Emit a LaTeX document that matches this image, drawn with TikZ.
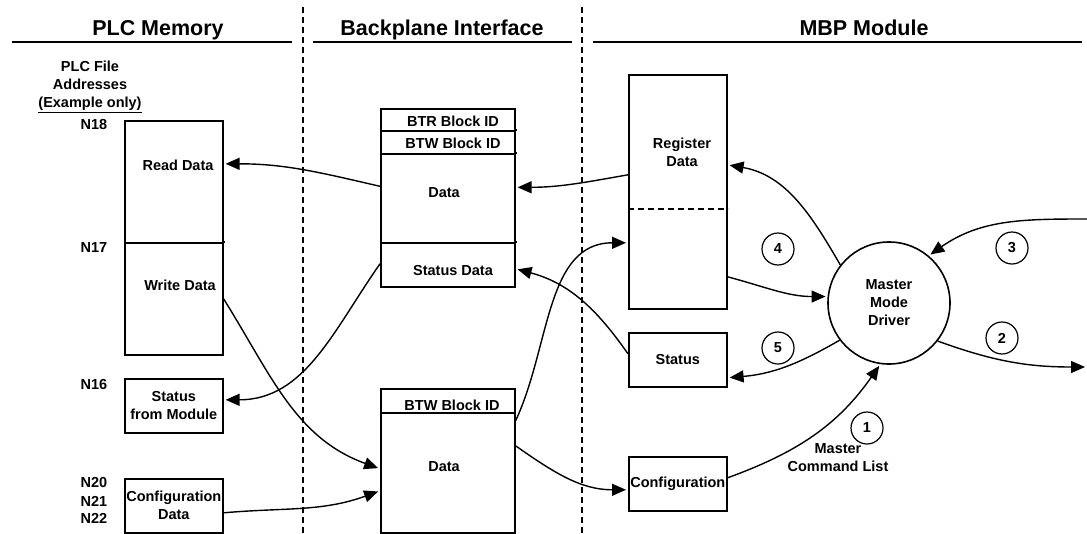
\documentclass[tikz,border=0pt]{standalone}
\usepackage{fontspec}
\setmainfont{Liberation Sans}
\usepackage{tikz}
\usetikzlibrary{arrows.meta, positioning}

\begin{document}
\begin{tikzpicture}[x=1pt, y=-1pt,
    box/.style={draw, line width=1.6pt, inner sep=0pt, anchor=north west,
      font=\fontsize{14.5}{18}\selectfont\bfseries, align=center},
    txt/.style={font=\fontsize{14.5}{18}\selectfont\bfseries, align=center, inner sep=0pt},
    head/.style={font=\fontsize{21.5}{24}\selectfont\bfseries, inner sep=0pt},
    num/.style={draw, circle, line width=1.2pt, minimum size=32pt, inner sep=0pt,
      font=\fontsize{14.5}{18}\selectfont\bfseries},
    flow/.style={line width=1.4pt, -{Triangle[length=14pt,width=12pt]}, shorten >=2pt},
    sep/.style={line width=1.2pt, dash pattern=on 6pt off 4pt}]
  \useasboundingbox (0,0) rectangle (1087,533);

  % column headings
  \node[head] (hplc) at (158,30) {PLC Memory};
  \node[head] (hbp) at (442,30) {Backplane Interface};
  \node[head] (hmbp) at (864,28) {MBP Module};
  \draw[line width=1.6pt] (12,42) -- (292,42);
  \draw[line width=1.6pt] (313,42) -- (572,42);
  \draw[line width=1.6pt] (593,42) -- (1082,42);
  \foreach \x in {303,582}
    \draw[sep] (\x,7) -- (\x,533);

  % PLC memory
  \node[txt] (addr) at (90,87) {PLC File\\Addresses\\\underline{(Example only)}};
  \foreach \t/\y in {N18/125, N17/248, N16/385, N20/483, N21/501, N22/518}
    \node[txt] (\t) at (94,\y) {\t};
  \node[box, minimum width=98pt, minimum height=122pt] (rdbox) at (124,120) {};
  \node[box, minimum width=98pt, minimum height=112pt] (wrbox) at (124,242) {};
  \draw[line width=1.6pt] (222,242) -- (225,242);
  \node[txt] (rdtxt) at (178,165) {Read Data};
  \node[txt] (wrtxt) at (180,285) {Write Data};
  \node[box, minimum width=98pt, minimum height=54pt] (stmod) at (124,378) {Status\\from Module};
  \node[box, minimum width=98pt, minimum height=54pt] (cfgdat) at (124,478) {Configuration\\Data};

  % backplane
  \node[box, minimum width=134pt, minimum height=22pt] (btr) at (380,108) {};
  \node[box, minimum width=134pt, minimum height=23pt] (btw) at (380,130) {};
  \node[box, minimum width=134pt, minimum height=89pt] (bdata) at (380,153) {};
  \node[box, minimum width=134pt, minimum height=44pt] (bstat) at (380,242) {};
  \foreach \y in {130,153,242}
    \draw[line width=1.6pt] (514,\y) -- (517,\y);
  \node[txt] (btrtxt) at (453,121) {BTR Block ID};
  \node[txt] (btwtxt) at (453,143) {BTW Block ID};
  \node[txt] (bdtxt) at (444,193) {Data};
  \node[txt] (bsttxt) at (453,271) {Status Data};
  \node[box, minimum width=134pt, minimum height=24pt] (bbtw) at (380,388) {};
  \node[box, minimum width=134pt, minimum height=120pt] (bwd) at (380,412) {};
  \node[txt] (bbtwtxt) at (452,405) {BTW Block ID};
  \node[txt] (bwdtxt) at (444,467) {Data};

  % MBP module
  \node[box, minimum width=98pt, minimum height=234pt] (reg) at (628,74) {};
  \draw[line width=1.4pt, dash pattern=on 6pt off 4pt] (628,209) -- (728,209);
  \node[txt] (regtxt) at (682,152) {Register\\Data};
  \node[box, minimum width=98pt, minimum height=54pt] (stat) at (628,332) {Status};
  \node[box, minimum width=98pt, minimum height=54pt] (conf) at (628,456) {Configuration};
  \node[draw, circle, line width=1.6pt, minimum size=122pt, txt] (drv) at (889,303) {Master\\Mode\\Driver};
  \node[txt] (mcl) at (838,458) {Master\\Command List};
  \foreach \n/\x/\y in {1/867/428, 2/1002/338, 3/1012/248, 4/778/249, 5/778/348}
    \node[num] (n\n) at (\x,\y) {\n};
  \coordinate (in3) at (1087,219);
  \coordinate (out2) at (1087,367);

  % data flow
  \draw[flow] ([yshift=12pt]bdata.west) to[out=167,in=0] ([yshift=18pt]rdbox.east);
  \draw[flow] ([yshift=17pt]reg.west) to[out=190,in=0] ([yshift=11pt]bdata.east);
  \draw[flow] (wrbox.east) to[out=-58,in=160] ([yshift=4pt]bwd.west);
  \draw[flow] ([yshift=-7pt]cfgdat.east) to[out=5,in=200] ([yshift=-18pt]bwd.west);
  \draw[flow] ([yshift=1pt]bstat.west) to[out=235,in=0] ([yshift=6pt]stmod.east);
  \draw[flow] ([yshift=52pt]bwd.east) to[out=65,in=180] ([yshift=-51pt]reg.west);
  \draw[flow] ([yshift=6pt]stat.west) to[out=125,in=-15] ([yshift=-4pt]bstat.east);
  \draw[flow] ([yshift=27pt]bwd.east) to[out=-35,in=180] ([yshift=-6pt]conf.west);
  \draw[flow] ([yshift=6pt]conf.east) to[out=20,in=235] (drv.-98);
  \draw[flow] (drv.142) to[out=120,in=-10] ([yshift=27pt]reg.east);
  \draw[flow] ([yshift=-85pt]reg.east) to[out=-15,in=180] (drv.174);
  \draw[flow] (drv.217) to[out=210,in=5] ([yshift=-18pt]stat.east);
  \draw[flow] (in3) to[out=180,in=35] (drv.50);
  \draw[flow] (drv.-38) to[out=-20,in=180] (out2);
\end{tikzpicture}
\end{document}
